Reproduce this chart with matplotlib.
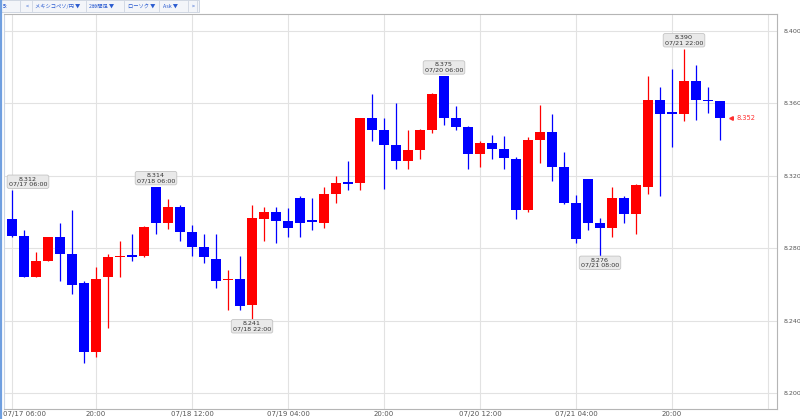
import numpy as np
import matplotlib
matplotlib.use('Agg')
import matplotlib.pyplot as plt
from matplotlib.patches import Rectangle
from matplotlib.lines import Line2D

# 2-hour candles, MXN/JPY, 07/17 06:00 .. 07/21 ~24:00
opens = [8.296, 8.287, 8.264, 8.273, 8.286, 8.277, 8.261, 8.223, 8.264, 8.275,
         8.2762, 8.2758, 8.314, 8.294, 8.303, 8.289, 8.281, 8.274, 8.2623, 8.263,
         8.249, 8.296, 8.300, 8.295, 8.308, 8.2950, 8.294, 8.310, 8.3161, 8.316,
         8.352, 8.345, 8.337, 8.328, 8.334, 8.345, 8.375, 8.352, 8.347, 8.332,
         8.338, 8.335, 8.329, 8.301, 8.340, 8.344, 8.325, 8.305, 8.318, 8.2938,
         8.291, 8.308, 8.299, 8.314, 8.362, 8.3545, 8.354, 8.372, 8.362, 8.361]
highs = [8.312, 8.290, 8.278, 8.286, 8.294, 8.301, 8.262, 8.270, 8.277, 8.284,
         8.288, 8.2923, 8.314, 8.307, 8.304, 8.293, 8.288, 8.288, 8.268, 8.276,
         8.304, 8.303, 8.303, 8.302, 8.309, 8.3076, 8.3137, 8.320, 8.328, 8.352,
         8.365, 8.352, 8.360, 8.345, 8.3457, 8.3655, 8.375, 8.3587, 8.3477, 8.339,
         8.3425, 8.342, 8.3306, 8.3416, 8.359, 8.354, 8.333, 8.3094, 8.318, 8.2966,
         8.314, 8.309, 8.3155, 8.375, 8.369, 8.379, 8.390, 8.381, 8.369, 8.3615]
lows = [8.286, 8.264, 8.264, 8.273, 8.262, 8.255, 8.217, 8.220, 8.236, 8.264,
        8.273, 8.2755, 8.288, 8.2905, 8.284, 8.276, 8.272, 8.258, 8.246, 8.246,
        8.241, 8.284, 8.283, 8.2865, 8.286, 8.290, 8.291, 8.305, 8.312, 8.312,
        8.339, 8.313, 8.324, 8.324, 8.329, 8.3435, 8.348, 8.3453, 8.324, 8.325,
        8.329, 8.324, 8.296, 8.300, 8.327, 8.317, 8.3045, 8.283, 8.290, 8.276,
        8.2864, 8.294, 8.288, 8.310, 8.309, 8.336, 8.350, 8.351, 8.3545, 8.340]
closes = [8.287, 8.264, 8.273, 8.286, 8.277, 8.260, 8.223, 8.263, 8.275, 8.2758,
          8.2755, 8.292, 8.294, 8.303, 8.289, 8.281, 8.275, 8.262, 8.2628, 8.248,
          8.297, 8.300, 8.295, 8.291, 8.294, 8.2946, 8.310, 8.316, 8.3157, 8.352,
          8.345, 8.337, 8.328, 8.334, 8.345, 8.365, 8.352, 8.347, 8.332, 8.338,
          8.335, 8.330, 8.301, 8.340, 8.344, 8.325, 8.305, 8.285, 8.294, 8.291,
          8.308, 8.299, 8.315, 8.362, 8.354, 8.3542, 8.372, 8.362, 8.361, 8.352]

x_tick_pos = [0, 7, 15, 23, 31, 39, 47, 55, 63]
x_tick_labels = ['07/17 06:00', '20:00', '07/18 12:00', '07/19 04:00', '20:00',
                 '07/20 12:00', '07/21 04:00', '20:00', '']
y_ticks = [8.200, 8.240, 8.280, 8.320, 8.360, 8.400]

# marked extremes: candle index, kind, candle time
mark_idx = [0, 12, 20, 36, 49, 56]
mark_kind = ['high', 'high', 'low', 'high', 'low', 'high']
mark_time = ['07/17 06:00', '07/18 06:00', '07/18 22:00', '07/20 06:00',
             '07/21 08:00', '07/21 22:00']
last_price = 8.352

UP = '#ff0000'
DOWN = '#0000ff'

fig = plt.figure(figsize=(8, 4.19), dpi=100)
ax = fig.add_axes([4 / 800, 10 / 419, 773 / 800, 395 / 419])

o = np.array(opens)
h = np.array(highs)
l = np.array(lows)
c = np.array(closes)
idx = np.arange(len(o))
colors = [UP if cc > oo else DOWN for oo, cc in zip(o, c)]

ax.vlines(idx, l, h, colors=colors, linewidth=0.9, zorder=2)
body_bottom = np.minimum(o, c)
body_height = np.maximum(np.abs(c - o), 0.0008)
ax.bar(idx, body_height, width=0.82, bottom=body_bottom, color=colors,
       linewidth=0, zorder=3)

ax.set_xlim(-0.667, 63.75)
ax.set_ylim(8.19145, 8.4092)

ax.set_xticks(x_tick_pos)
ax.set_xticklabels(x_tick_labels)
ax.set_yticks(y_ticks)
ax.set_yticklabels([f'{v:.3f}' for v in y_ticks])
ax.yaxis.tick_right()
ax.tick_params(axis='y', length=0, pad=4.5, labelsize=4.6, labelcolor='#555555')
ax.tick_params(axis='x', length=0, pad=1.5, labelsize=5, labelcolor='#555555')
first = ax.get_xticklabels()[0]
first.set_horizontalalignment('left')
first.set_transform(first.get_transform() +
                    matplotlib.transforms.ScaledTranslation(-9 / 100, 0, fig.dpi_scale_trans))

ax.grid(True, color='#e2e2e2', linewidth=0.8, zorder=0)
ax.set_axisbelow(True)
for side in ['top', 'bottom', 'right']:
    ax.spines[side].set_color('#b5b5b5')
    ax.spines[side].set_linewidth(0.8)
ax.spines['left'].set_color('#c8d4e6')
ax.spines['left'].set_linewidth(0.8)

# high / low call-out boxes
for i, kind, t in zip(mark_idx, mark_kind, mark_time):
    if kind == 'high':
        val, dy, va = h[i], 2.5, 'bottom'
    else:
        val, dy, va = l[i], -1.5, 'top'
    dx = 11.5 if i == 0 else 0
    ax.annotate(f'{val:.3f}\n{t}', xy=(i, val), xytext=(dx, dy),
                textcoords='offset points', ha='center', va=va,
                fontsize=4.6, color='#333333', linespacing=1.05,
                bbox=dict(boxstyle='round,pad=0.25,rounding_size=0.3',
                          fc='#e9e9e9', ec='#c4c4c4', lw=0.6),
                zorder=5)

# current price marker
ax.plot([59.95], [last_price], marker='<', color='#ff3030', markersize=2.6,
        linestyle='none', zorder=5, clip_on=False)
ax.text(60.35, last_price, f'{last_price:.3f}', color='#ff3030', fontsize=4.8,
        va='center', ha='left', zorder=5)

# window frame at the far left
fig.add_artist(Line2D([1.2 / 800, 1.2 / 800], [0, 1], color='#6f9fe0', lw=1.6))

# toolbar strip
fig.add_artist(Rectangle((0, 1 - 12 / 419), 199 / 800, 12 / 419,
                         transform=fig.transFigure, fc='#f3f5f9', ec='#c9d1de', lw=0.6))
tb_font = ['Noto Sans CJK JP', 'DejaVu Sans']
toolbar_items = [(3, '5:'), (25.5, '<'), (35, 'メキシコペソ/円 ▼'), (89, '2時間足 ▼'),
                 (128, 'ローソク ▼'), (163, 'Ask ▼'), (192, '>')]
for px, s in toolbar_items:
    fig.text(px / 800, 1 - 6.3 / 419, s, fontsize=3.8, color='#2a5bd0',
             family=tb_font, va='center', ha='left',
             fontweight='bold' if s == '5:' else 'normal')
for px in [20, 32, 86, 124, 159, 188, 197]:
    fig.add_artist(Line2D([px / 800, px / 800], [1 - 11 / 419, 1 - 1.5 / 419],
                          color='#cdd4e0', lw=0.6))

fig.savefig('out.png', dpi=100)
